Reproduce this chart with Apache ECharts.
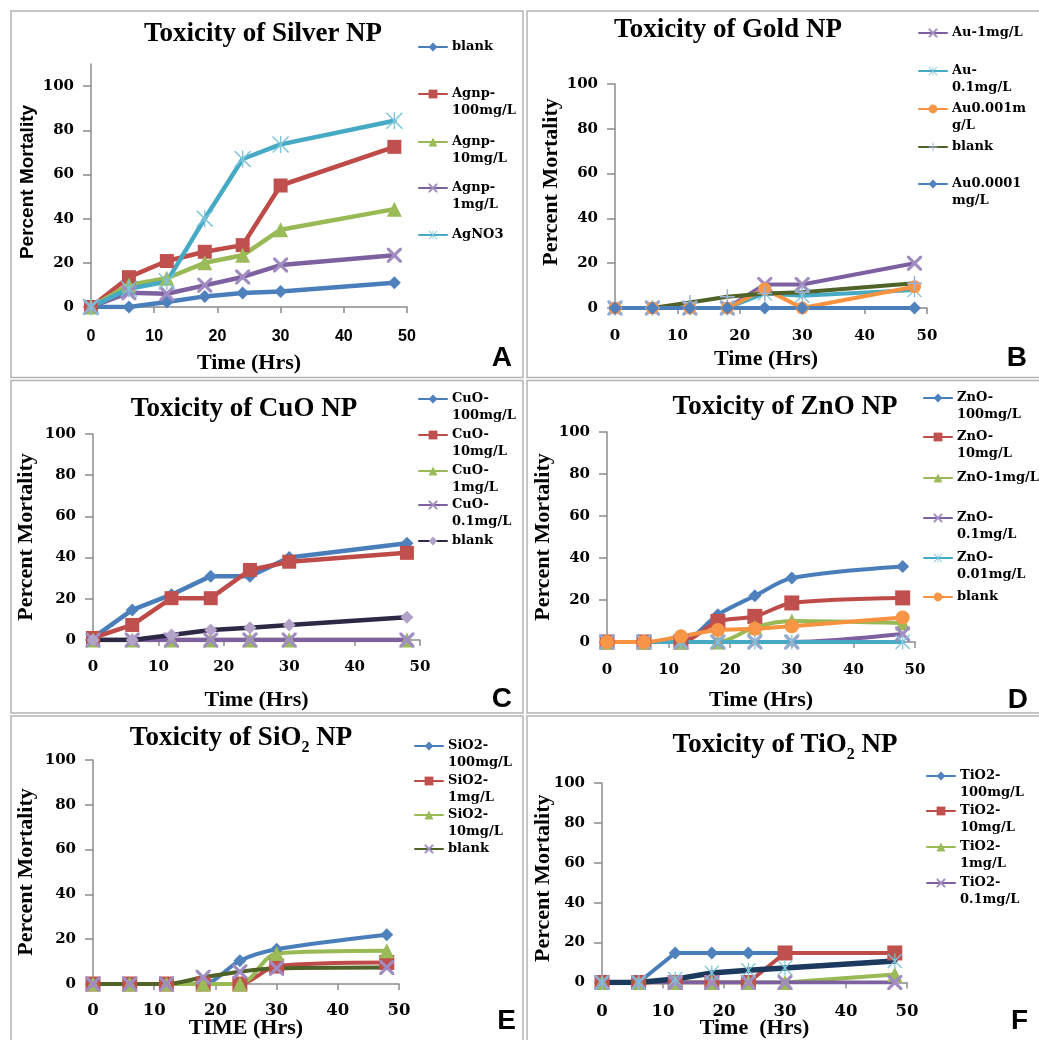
<!DOCTYPE html>
<html>
<head>
<meta charset="utf-8">
<title>Toxicity of nanoparticles</title>
<script src="https://cdn.jsdelivr.net/npm/echarts@6/dist/echarts.min.js"></script>
<style>
  html, body { margin: 0; padding: 0; background: #fff; }
  #chart { width: 1039px; height: 1040px; }
</style>
</head>
<body>
<div id="chart"></div>
<script>
// exposure time (hours), shared by every panel
const hours = [0, 6, 12, 18, 24, 30, 48];
const yTicks = [0, 20, 40, 60, 80, 100];

// A - silver
const agBlank = [0, 0, 2.3, 4.8, 6.3, 7, 11];
const ag100 = [0, 13.5, 20.8, 25, 28, 55, 72.5];
const ag10 = [0, 10, 13, 20, 23.4, 35, 44.3];
const ag1 = [0, 6.5, 6, 9.8, 13.6, 19, 23.4];
const agNO3 = [0, 8.3, 11.5, 40, 67, 73.6, 84.3];

// B - gold
const au1 = [0, 0, 0, 0, 10.5, 10.5, 20];
const au01 = [0, 0, 0, 0, 6.5, 5.5, 8];
const au0001 = [0, 0, 0, 0, 8.5, 0, 9.5];
const auBlank = [0, 0, 2.5, 5, 6.5, 7, 11];
const au00001 = [0, 0, 0, 0, 0, 0, 0];

// C - copper oxide
const cu100 = [1, 14.6, 22, 31, 31, 40, 47];
const cu10 = [1, 7.3, 20.3, 20.3, 34, 38, 42.3];
const cu1 = [0, 0, 0, 0, 0, 0, 0];
const cu01 = [0, 0, 0, 0, 0, 0, 0];
const cuBlank = [0, 0, 2.4, 4.9, 6, 7.3, 11];

// D - zinc oxide
const zn100 = [0, 0, 0, 13, 22, 30.5, 36];
const zn10 = [0, 0, 0, 9.8, 12.2, 18.6, 21];
const zn1 = [0, 0, 0, 0, 7, 10, 9];
const zn01 = [0, 0, 0, 0, 0, 0, 3.8];
const zn001 = [0, 0, 0, 0, 0, 0, 0];
const znBlank = [0, 0, 2.7, 5.7, 6.3, 7.5, 11.7];

// E - silica
const si100 = [0, 0, 0, 0, 10.4, 15.5, 22];
const si1 = [0, 0, 0, 0, 0, 8, 9.6];
const si10 = [0, 0, 0, 0, 0, 13.6, 14.8];
const siBlank = [0, 0, 0, 3, 5.5, 7, 7.4];

// F - titania (last series has no legend entry in the figure)
const ti100 = [0, 0, 14.8, 14.8, 14.8, 14.8, 14.8];
const ti10 = [0, 0, 0, 0, 0, 14.8, 14.8];
const ti1 = [0, 0, 0, 0, 0, 0, 4];
const ti01 = [0, 0, 0, 0, 0, 0, 0];
const tiExtra = [0, 0, 1.7, 4.8, 6.1, 7.3, 10.8];

const SERIF = '"Liberation Serif", "Times New Roman", serif';
const DEJAVU = '"DejaVu Serif", serif';
const SANS = '"Liberation Sans", Arial, sans-serif';

const BLUE = '#4A7EBB', BLUE_M = '#4F81BD';
const RED = '#BE4B48', RED_M = '#C0504D';
const GREEN = '#98B954', GREEN_M = '#9BBB59';
const PURPLE = '#7D60A0', PURPLE_M = '#A08CC0';
const TEAL = '#46AAC5', TEAL_M = '#7CC4DA';
const ORANGE = '#F69240', ORANGE_M = '#F79646';
const OLIVE = '#4F6228';

const X_MARK = 'path://M0,0L3,0L10,7L17,0L20,0L20,3L13,10L20,17L20,20L17,20L10,13L3,20L0,20L0,17L7,10L0,3Z';
const STAR_MARK = 'path://M0,1.2L1.2,0L10,8.8L18.8,0L20,1.2L11.2,10L20,18.8L18.8,20L10,11.2L1.2,20L0,18.8L8.8,10Z M9.2,0L10.8,0L10.8,20L9.2,20Z';
const PLUS_MARK = 'path://M9,0L11,0L11,9L20,9L20,11L11,11L11,20L9,20L9,11L0,11L0,9L9,9Z';

// [legend label, values, line colour, symbol, symbol size, marker colour, legend y]
const panels = [
  {
    letter: 'A', title: 'Toxicity of Silver NP', titleAt: [263, 34],
    grid: [91, 64, 316, 243], yMax: 110,
    xFont: SANS, xSize: 16, xMargin: 22, xName: 'Time (Hrs)', xGap: 45, xPad: [0, 0, 0, 0],
    yFont: SANS, ySize: 19, yGap: 54, yPad: [0, 0, 0, 7],
    legendX: 418, width: 4.5, smooth: false, letterAt: [512, 358],
    box: [11, 11, 512, 366.5],
    series: [
      ['blank', agBlank, BLUE, 'diamond', 13, BLUE_M, 47],
      ['Agnp-\n100mg/L', ag100, RED, 'rect', 14, RED_M, 94],
      ['Agnp-\n10mg/L', ag10, GREEN, 'triangle', 15, GREEN_M, 142],
      ['Agnp-\n1mg/L', ag1, PURPLE, X_MARK, 15, PURPLE_M, 188],
      ['AgNO3', agNO3, TEAL, STAR_MARK, 17, TEAL_M, 235]
    ]
  },
  {
    letter: 'B', title: 'Toxicity of Gold NP', titleAt: [728, 30],
    grid: [615, 84, 312, 224], yMax: 100,
    xFont: DEJAVU, xSize: 15, xMargin: 21, xName: 'Time (Hrs)', xGap: 40, xPad: [0, 10, 0, 0],
    yFont: SERIF, ySize: 22, yGap: 53, yPad: [0, 0, 0, 28],
    legendX: 918, width: 4, smooth: false, letterAt: [1027, 358],
    box: [527, 11, 520, 366.5],
    series: [
      ['Au-1mg/L', au1, PURPLE, X_MARK, 15, PURPLE_M, 33],
      ['Au-\n0.1mg/L', au01, TEAL, STAR_MARK, 15, TEAL_M, 71],
      ['Au0.001m\ng/L', au0001, ORANGE, 'circle', 13, ORANGE_M, 109],
      ['blank', auBlank, OLIVE, PLUS_MARK, 15, '#9DB3D3', 147],
      ['Au0.0001\nmg/L', au00001, BLUE, 'diamond', 13, BLUE_M, 184]
    ]
  },
  {
    letter: 'C', title: 'Toxicity of CuO NP', titleAt: [244, 409],
    grid: [93, 434, 327, 206], yMax: 100,
    xFont: DEJAVU, xSize: 15, xMargin: 19.5, xName: 'Time (Hrs)', xGap: 49, xPad: [0, 0, 0, 0],
    yFont: SERIF, ySize: 22, yGap: 56, yPad: [0, 0, 0, 0],
    legendX: 418, width: 4.5, smooth: false, letterAt: [512, 699],
    box: [11, 380.5, 512, 332.5],
    series: [
      ['CuO-\n100mg/L', cu100, BLUE, 'diamond', 13, BLUE_M, 399],
      ['CuO-\n10mg/L', cu10, RED, 'rect', 14, RED_M, 435],
      ['CuO-\n1mg/L', cu1, GREEN, 'triangle', 15, GREEN_M, 471],
      ['CuO-\n0.1mg/L', cu01, PURPLE, X_MARK, 15, PURPLE_M, 505],
      ['blank', cuBlank, '#2E2847', 'diamond', 13, '#B3A2C7', 541]
    ]
  },
  {
    letter: 'D', title: 'Toxicity of ZnO NP', titleAt: [785, 407],
    grid: [607, 432, 308, 210], yMax: 100,
    xFont: DEJAVU, xSize: 15, xMargin: 20.5, xName: 'Time (Hrs)', xGap: 47.5, xPad: [0, 0, 0, 0],
    yFont: SERIF, ySize: 22, yGap: 52.5, yPad: [0, 0, 0, 0],
    legendX: 923, width: 4, smooth: 0.3, letterAt: [1028, 700],
    box: [527, 380.5, 520, 332.5],
    series: [
      ['ZnO-\n100mg/L', zn100, BLUE, 'diamond', 13, BLUE_M, 398],
      ['ZnO-\n10mg/L', zn10, RED, 'rect', 15, RED_M, 437],
      ['ZnO-1mg/L', zn1, GREEN, 'triangle', 15, GREEN_M, 478],
      ['ZnO-\n0.1mg/L', zn01, PURPLE, X_MARK, 15, PURPLE_M, 518],
      ['ZnO-\n0.01mg/L', zn001, TEAL, STAR_MARK, 15, TEAL_M, 558],
      ['blank', znBlank, ORANGE, 'circle', 14, ORANGE_M, 597]
    ]
  },
  {
    letter: 'E', title: 'Toxicity of SiO{sub|2} NP', titleAt: [241, 738],
    grid: [93, 760, 306, 225], yMax: 100,
    xFont: DEJAVU, xSize: 16.5, xMargin: 18.5, xName: 'TIME (Hrs)', xGap: 33, xPad: [0, 0, 0, 0],
    yFont: SERIF, ySize: 22, yGap: 56, yPad: [0, 0, 0, 0],
    legendX: 414, width: 4, smooth: 0.3, letterAt: [516, 1021],
    box: [11, 716, 512, 340],
    series: [
      ['SiO2-\n100mg/L', si100, BLUE, 'diamond', 13, BLUE_M, 746],
      ['SiO2-\n1mg/L', si1, RED, 'rect', 15, RED_M, 781],
      ['SiO2-\n10mg/L', si10, GREEN, 'triangle', 15, GREEN_M, 815],
      ['blank', siBlank, OLIVE, X_MARK, 15, PURPLE_M, 849]
    ]
  },
  {
    letter: 'F', title: 'Toxicity of TiO{sub|2} NP', titleAt: [785, 745],
    grid: [602, 783, 305, 201], yMax: 100,
    xFont: DEJAVU, xSize: 16.5, xMargin: 20.5, xName: 'Time  (Hrs)', xGap: 34.5, xPad: [0, 0, 0, 0],
    yFont: SERIF, ySize: 22, yGap: 47.5, yPad: [0, 0, 0, 9],
    legendX: 926, width: 4, smooth: false, letterAt: [1028, 1021],
    box: [527, 716, 520, 340],
    series: [
      ['TiO2-\n100mg/L', ti100, BLUE, 'diamond', 13, BLUE_M, 776],
      ['TiO2-\n10mg/L', ti10, RED, 'rect', 15, RED_M, 811],
      ['TiO2-\n1mg/L', ti1, GREEN, 'triangle', 15, GREEN_M, 847],
      ['TiO2-\n0.1mg/L', ti01, PURPLE, X_MARK, 15, PURPLE_M, 883],
      ['', tiExtra, '#1C3A5E', STAR_MARK, 15, TEAL_M, null]
    ]
  }
];

const chart = echarts.init(document.getElementById('chart'), null, { renderer: 'canvas' });

const option = {
  animation: false,
  backgroundColor: '#fff',
  title: [], grid: [], xAxis: [], yAxis: [], legend: [], series: [], graphic: []
};

const legendLabels = {};
const axisColor = '#8C8C8C';

panels.forEach((p, i) => {
  const [gl, gt, gw, gh] = p.grid;
  option.grid.push({ left: gl, top: gt, width: gw, height: gh });

  const titleStyle = { fontFamily: SERIF, fontSize: 27, fontWeight: 'bold', color: '#000' };
  if (p.title.indexOf('{sub|') >= 0) {
    option.title.push({
      text: p.title.replace(/^([^{]+)/, '{m|$1}').replace(/\} NP$/, '}{m| NP}'),
      left: p.titleAt[0], top: p.titleAt[1], padding: 0,
      textAlign: 'center', textVerticalAlign: 'middle',
      textStyle: Object.assign({}, titleStyle, {
        rich: {
          m: Object.assign({}, titleStyle, { verticalAlign: 'middle', lineHeight: 27 }),
          sub: { fontFamily: SERIF, fontSize: 16, fontWeight: 'bold', color: '#000',
                 verticalAlign: 'middle', lineHeight: 16, padding: [20, 0, 0, 0] }
        }
      })
    });
  } else {
    option.title.push({
      text: p.title, left: p.titleAt[0], top: p.titleAt[1], padding: 0,
      textAlign: 'center', textVerticalAlign: 'middle', textStyle: titleStyle
    });
  }

  option.xAxis.push({
    type: 'value', gridIndex: i, min: 0, max: 50, interval: 10,
    axisLine: { onZero: false, lineStyle: { color: axisColor, width: 1.5 } },
    axisTick: { show: true, length: 6, lineStyle: { color: axisColor, width: 1.5 } },
    axisLabel: { margin: p.xMargin, fontFamily: p.xFont, fontSize: p.xSize, fontWeight: 'bold', color: '#000' },
    splitLine: { show: false },
    name: p.xName, nameLocation: 'middle', nameGap: p.xGap, nameMoveOverlap: false,
    nameTextStyle: { fontFamily: SERIF, fontSize: 22, fontWeight: 'bold', color: '#000', padding: p.xPad }
  });

  option.yAxis.push({
    type: 'value', gridIndex: i, min: 0, max: p.yMax, interval: 20,
    axisLine: { show: true, lineStyle: { color: axisColor, width: 1.5 } },
    axisTick: { show: true, length: 8, customValues: yTicks, lineStyle: { color: axisColor, width: 1.5 } },
    axisLabel: {
      margin: 17, fontFamily: DEJAVU, fontSize: 15, fontWeight: 'bold', color: '#000',
      customValues: yTicks,
      formatter: v => (yTicks.indexOf(v) >= 0 ? String(v) : '')
    },
    splitLine: { show: false },
    name: 'Percent Mortality', nameLocation: 'middle', nameGap: p.yGap, nameMoveOverlap: false,
    nameTextStyle: { fontFamily: p.yFont, fontSize: p.ySize, fontWeight: 'bold', color: '#000', padding: p.yPad }
  });

  p.series.forEach((s, k) => {
    const [label, values, color, symbol, size, marker, legendY] = s;
    const id = p.letter + ':' + (label || 'extra' + k);
    const twoLine = label.indexOf('\n') >= 0;
    // a leading empty line keeps the legend icon level with the first text line
    legendLabels[id] = twoLine ? '\n' + label : label;
    option.series.push({
      name: id, type: 'line', xAxisIndex: i, yAxisIndex: i,
      data: hours.map((h, j) => [h, values[j]]),
      smooth: p.smooth,
      symbol: symbol, symbolSize: size, showAllSymbol: true,
      lineStyle: { color: color, width: k === 4 && p.letter === 'F' ? 5.5 : p.width, cap: 'round', join: 'round' },
      itemStyle: { color: marker, borderWidth: 0 },
      emphasis: { disabled: true }
    });
    if (legendY != null) {
      option.legend.push({
        orient: 'vertical', left: p.legendX, top: legendY - (twoLine ? 25.5 : 8.5),
        padding: 0, itemGap: 0, itemWidth: 28, itemHeight: 11, selectedMode: false,
        formatter: name => legendLabels[name],
        textStyle: { fontFamily: DEJAVU, fontSize: 13, fontWeight: 'bold', color: '#000', lineHeight: 17 },
        data: [id]
      });
    }
  });

  const [bx, by, bw, bh] = p.box;
  option.graphic.push({
    type: 'rect', silent: true, shape: { x: bx, y: by, width: bw, height: bh },
    style: { fill: 'none', stroke: '#B4B4B4', lineWidth: 1.5 }
  });
  option.graphic.push({
    type: 'text', silent: true, x: p.letterAt[0], y: p.letterAt[1],
    style: {
      text: p.letter, fontFamily: SANS, fontSize: 28, fontWeight: 'bold', fill: '#000',
      align: 'right', verticalAlign: 'middle'
    }
  });
});

chart.setOption(option);
</script>
</body>
</html>
